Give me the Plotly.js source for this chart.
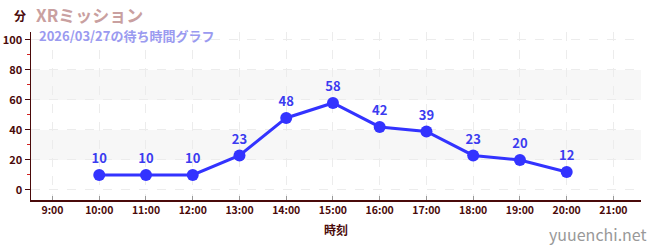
<!DOCTYPE html>
<html><head><meta charset="utf-8">
<script src="https://cdn.plot.ly/plotly-3.0.1.min.js"></script>
<style>html,body{margin:0;padding:0;background:#fff}#c{width:650px;height:250px}</style>
</head><body><div id="c"></div>
<script>
const hours = [10, 11, 12, 13, 14, 15, 16, 17, 18, 19, 20];
const waits = [10, 10, 10, 23, 48, 58, 42, 39, 23, 20, 12];
const tickHours = [9, 10, 11, 12, 13, 14, 15, 16, 17, 18, 19, 20, 21];
const tickLabels = ["9:00","10:00","11:00","12:00","13:00","14:00","15:00","16:00","17:00","18:00","19:00","20:00","21:00"];
const bands = [[20, 40], [60, 80]];
const titleText = "XRミッション";
const subtitleText = "2026/03/27の待ち時間グラフ";

const F = '"Noto Sans CJK JP", "Noto Sans", sans-serif';
const dark = '#4a0a0a';

const trace = {
  x: hours, y: waits, type: 'scatter', mode: 'lines+markers+text',
  text: waits.map(String), textposition: 'top center',
  textfont: {family: F, size: 13, color: '#3b3bf0', weight: 'bold'},
  line: {color: '#3333ff', width: 3},
  marker: {color: '#3333ff', size: 12},
  cliponaxis: false, hoverinfo: 'none'
};

const shapes = bands.map(b => ({type: 'rect', xref: 'paper', yref: 'y', x0: 0, x1: 1, y0: b[0], y1: b[1],
  fillcolor: '#f7f7f7', line: {width: 0}, layer: 'below'}));

const layout = {
  width: 650, height: 250,
  margin: {l: 31, r: 9, t: 32, b: 50},
  paper_bgcolor: '#fff', plot_bgcolor: '#fff',
  showlegend: false,
  shapes: shapes,
  xaxis: {
    range: [8.54, 21.59], tickvals: tickHours, ticktext: tickLabels,
    showgrid: true, gridcolor: '#ececec', griddash: 'dash', gridwidth: 1,
    zeroline: false, showline: true, linecolor: dark, linewidth: 1.5,
    ticks: 'inside', ticklen: 4, tickcolor: '#999',
    tickfont: {family: F, size: 10.5, color: dark, weight: 'bold'},
    title: {text: '時刻', font: {family: F, size: 12, color: dark, weight: 'bold'}, standoff: 10}
  },
  yaxis: {
    range: [-6.7, 105.3], tickvals: [0, 20, 40, 60, 80, 100],
    showgrid: true, gridcolor: '#ececec', griddash: 'dash', gridwidth: 1,
    zeroline: false, showline: true, linecolor: dark, linewidth: 1.5,
    ticks: 'outside', ticklen: 5, tickcolor: dark,
    tickfont: {family: F, size: 11, color: dark, weight: 'bold'},
    minor: {tickvals: [10, 30, 50, 70, 90], ticks: 'outside', ticklen: 3, tickcolor: '#d02020', showgrid: false}
  },
  annotations: [
    {text: '<b>' + titleText + '</b>', xref: 'paper', yref: 'paper', x: 0.007, y: 1, xanchor: 'left', yanchor: 'top',
     yshift: 31, borderpad: 0, showarrow: false, font: {family: F, size: 17, color: '#c9a0a0'}},
    {text: '<b>' + subtitleText + '</b>', xref: 'paper', yref: 'paper', x: 0.012, y: 1, xanchor: 'left', yanchor: 'top',
     yshift: 7, borderpad: 0, showarrow: false, font: {family: F, size: 13, color: '#9a9af0'}},
    {text: '<b>分</b>', xref: 'paper', yref: 'paper', x: 0, y: 1, xanchor: 'right', yanchor: 'bottom',
     xshift: -3, yshift: 6, showarrow: false, font: {family: F, size: 12, color: dark}},
    {text: 'yuuenchi.net', xref: 'paper', yref: 'paper', x: 1, y: 0, xanchor: 'right', yanchor: 'top',
     xshift: 8, yshift: -20, showarrow: false, font: {family: F, size: 16, color: '#999'}}
  ]
};

Plotly.newPlot('c', [trace], layout, {staticPlot: true, displayModeBar: false});
</script></body></html>
